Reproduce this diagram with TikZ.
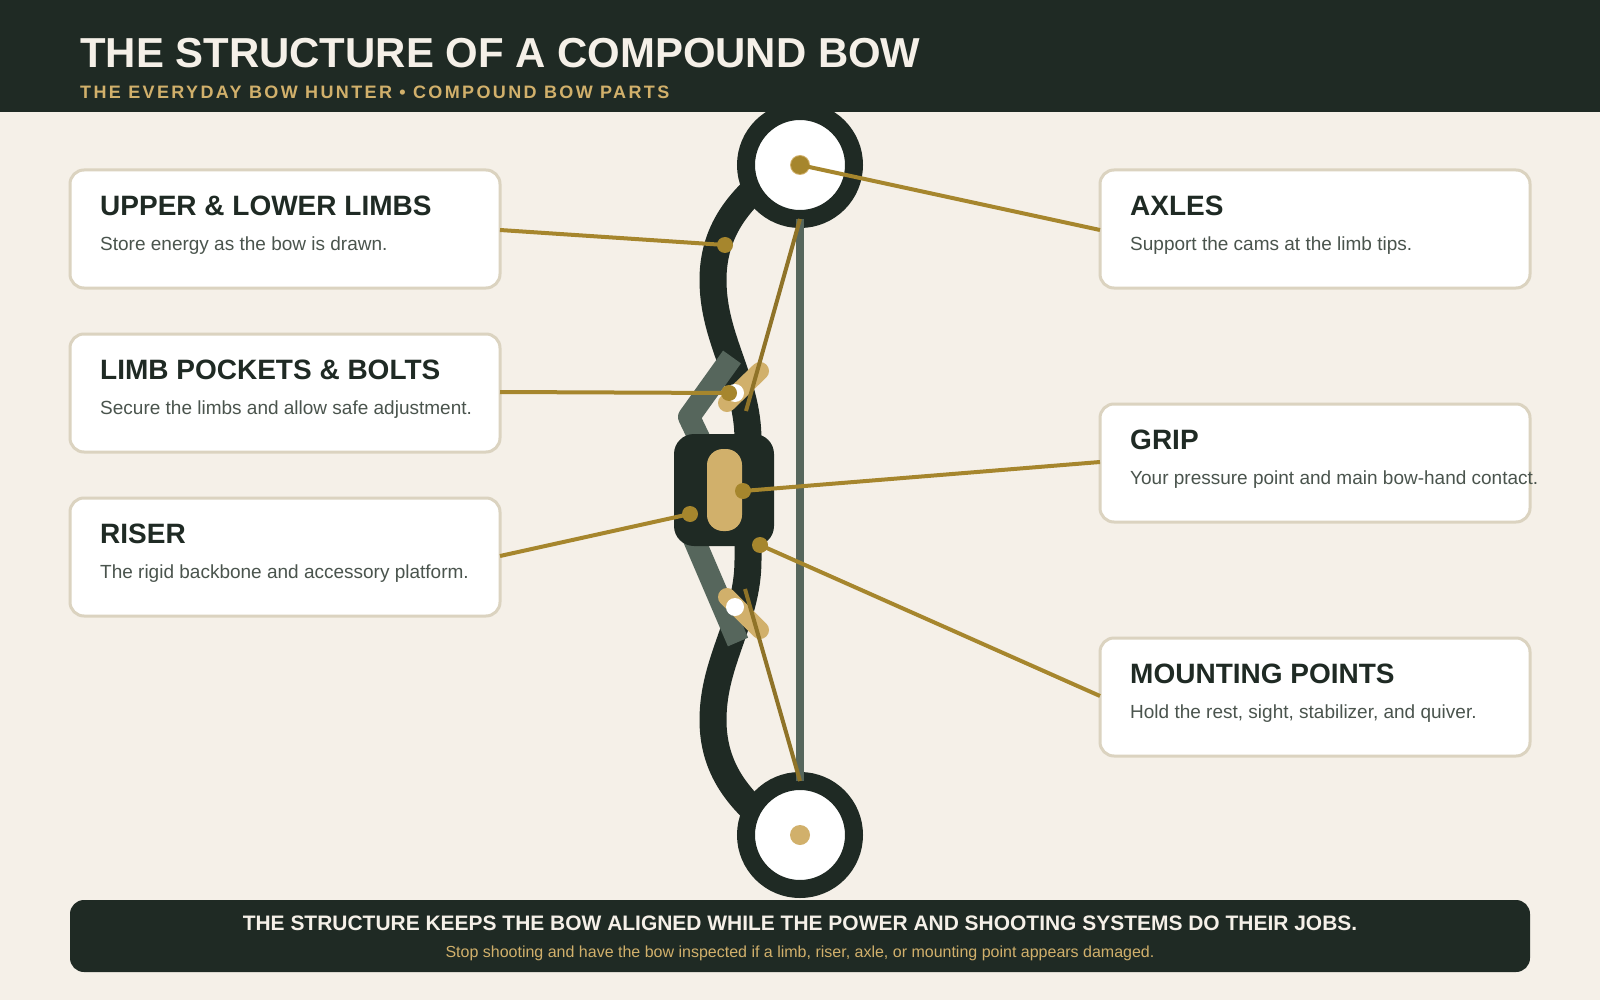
\documentclass[tikz,border=0pt]{standalone}
\usepackage{fontspec}
\setmainfont{Liberation Sans}
\definecolor{paper}{HTML}{F5F0E8}
\definecolor{ink}{HTML}{1F2A24}
\definecolor{sand}{HTML}{D1B06B}
\definecolor{brass}{HTML}{A6862D}
\definecolor{cable}{HTML}{8F7328}
\definecolor{steel}{HTML}{56665C}
\definecolor{edge}{HTML}{DBD3C0}
\definecolor{bodytext}{HTML}{4A544D}
\newcommand{\fs}[1]{\fontsize{#1}{#1}\selectfont}
\tikzset{
  card/.style={draw=edge,line width=3pt,fill=white,rounded corners=14pt,minimum width=430pt,minimum height=118pt,outer sep=0pt,inner sep=0pt},
  cardtitle/.style={anchor=base west,inner sep=0pt,text=ink,font=\bfseries\fs{28}},
  cardbody/.style={anchor=base west,inner sep=0pt,text=bodytext,font=\fs{19}},
  leader/.style={draw=brass,line width=4pt},
  pin/.style={circle,fill=brass,minimum size=16pt,inner sep=0pt,outer sep=0pt},
  limb/.style={draw=ink,line width=27pt},
  cambody/.style={circle,draw=ink,line width=18pt,fill=white,minimum size=108pt,inner sep=0pt,outer sep=0pt},
  camcable/.style={draw=cable,line width=4pt},
  pocketbar/.style={draw=sand,line width=18pt,line cap=round},
  pocketarm/.style={draw=steel,line width=22pt,line join=round},
}
\begin{document}
\begin{tikzpicture}[x=1pt,y=-1pt]
\useasboundingbox (0,0) rectangle (1600,1000);
\fill[paper] (0,0) rectangle (1600,1000);

% limbs
\draw[limb] (748,480) -- (748,440) .. controls (748,380) and (713,340) .. (713,280) .. controls (713,235) and (735,205) .. (765,180);
\draw[limb] (748,520) -- (748,560) .. controls (748,620) and (713,660) .. (713,720) .. controls (713,765) and (735,795) .. (765,820);

% limb pocket arms
\draw[pocketarm] (732,357) -- (689,417) -- (712,465);
\draw[pocketarm] (738,642) -- (690,530);

% pocket bars and bolts
\draw[pocketbar] (727,403) -- (760,371);
\draw[pocketbar] (727,597) -- (760,630);
\node[circle,fill=white,minimum size=18pt,inner sep=0pt] (boltUpper) at (735,393) {};
\node[circle,fill=white,minimum size=18pt,inner sep=0pt] (boltLower) at (735,607) {};

% header band
\fill[ink] (0,0) rectangle (1600,112);

% cams
\node[cambody] (camTop) at (800,165) {};
\node[cambody] (camBottom) at (800,835) {};
\node[circle,fill=sand,minimum size=20pt,inner sep=0pt] (axleTop) at (800,165) {};
\node[circle,fill=sand,minimum size=20pt,inner sep=0pt] (axleBottom) at (800,835) {};

% riser and grip
\fill[ink,rounded corners=20pt] (674,434) rectangle (774,546);
\fill[sand,rounded corners=16pt] (707,449) rectangle (742,531);

% string and cables
\coordinate (stringTop) at (800,219);
\coordinate (stringBottom) at (800,781);
\coordinate (cableUpperEnd) at (746,411);
\coordinate (cableLowerEnd) at (745,589);
\draw[steel,line width=8pt] (stringTop) -- (stringBottom);
\draw[camcable] (stringTop) -- (cableUpperEnd);
\draw[camcable] (cableLowerEnd) -- (stringBottom);

% header text
\node[anchor=base west,inner sep=0pt,text=paper,font=\bfseries\fs{41.9}] (mainTitle) at (80,68) {THE STRUCTURE OF A COMPOUND BOW};
\node[anchor=base west,inner sep=0pt,text=sand,font=\bfseries\fs{18}\addfontfeature{LetterSpace=13.2}] (subTitle) at (80,98.5) {THE EVERYDAY BOW HUNTER • COMPOUND BOW PARTS};

% cards
\node[card] (cardLimbs) at (285,229) {};
\node[card] (cardPockets) at (285,393) {};
\node[card] (cardRiser) at (285,557) {};
\node[card] (cardAxles) at (1315,229) {};
\node[card] (cardGrip) at (1315,463) {};
\node[card] (cardMounts) at (1315,697) {};

\node[cardtitle] (titleLimbs) at (100,215.5) {UPPER \& LOWER LIMBS};
\node[cardbody] (bodyLimbs) at (100,251) {Store energy as the bow is drawn.};
\node[cardtitle] (titlePockets) at (100,379) {LIMB POCKETS \& BOLTS};
\node[cardbody] (bodyPockets) at (100,414) {Secure the limbs and allow safe adjustment.};
\node[cardtitle] (titleRiser) at (100,543) {RISER};
\node[cardbody] (bodyRiser) at (100,578) {The rigid backbone and accessory platform.};
\node[cardtitle] (titleAxles) at (1130,215.5) {AXLES};
\node[cardbody] (bodyAxles) at (1130,251) {Support the cams at the limb tips.};
\node[cardtitle] (titleGrip) at (1130,449) {GRIP};
\node[cardbody] (bodyGrip) at (1130,484) {Your pressure point and main bow-hand contact.};
\node[cardtitle] (titleMounts) at (1130,683) {MOUNTING POINTS};
\node[cardbody] (bodyMounts) at (1130,718) {Hold the rest, sight, stabilizer, and quiver.};

% leader pins and the points where leaders meet the cards
\node[pin] (pinLimbs) at (725,245) {};
\node[pin] (pinPockets) at (729,393) {};
\node[pin] (pinRiser) at (690,514) {};
\node[pin,minimum size=18pt] (pinAxles) at (800,165) {};
\node[pin] (pinGrip) at (743,491) {};
\node[pin] (pinMounts) at (760,545) {};
\coordinate (portLimbs) at (500,230);
\coordinate (portPockets) at (500,392);
\coordinate (portRiser) at (500,556);
\coordinate (portAxles) at (1100,230);
\coordinate (portGrip) at (1100,462);
\coordinate (portMounts) at (1100,696);

\draw[leader] (portLimbs) -- (pinLimbs.center);
\draw[leader] (portPockets) -- (pinPockets.center);
\draw[leader] (portRiser) -- (pinRiser.center);
\draw[leader] (portAxles) -- (pinAxles.center);
\draw[leader] (portGrip) -- (pinGrip.center);
\draw[leader] (portMounts) -- (pinMounts.center);

% footer band
\node[fill=ink,rounded corners=14pt,minimum width=1460pt,minimum height=72pt,inner sep=0pt] (footer) at (800,936) {};
\node[anchor=base,inner sep=0pt,text=paper,font=\bfseries\fs{20.96}] (footerMain) at (800,930) {THE STRUCTURE KEEPS THE BOW ALIGNED WHILE THE POWER AND SHOOTING SYSTEMS DO THEIR JOBS.};
\node[anchor=base,inner sep=0pt,text=sand,font=\fs{16}] (footerNote) at (800,957.5) {Stop shooting and have the bow inspected if a limb, riser, axle, or mounting point appears damaged.};
\end{tikzpicture}
\end{document}
